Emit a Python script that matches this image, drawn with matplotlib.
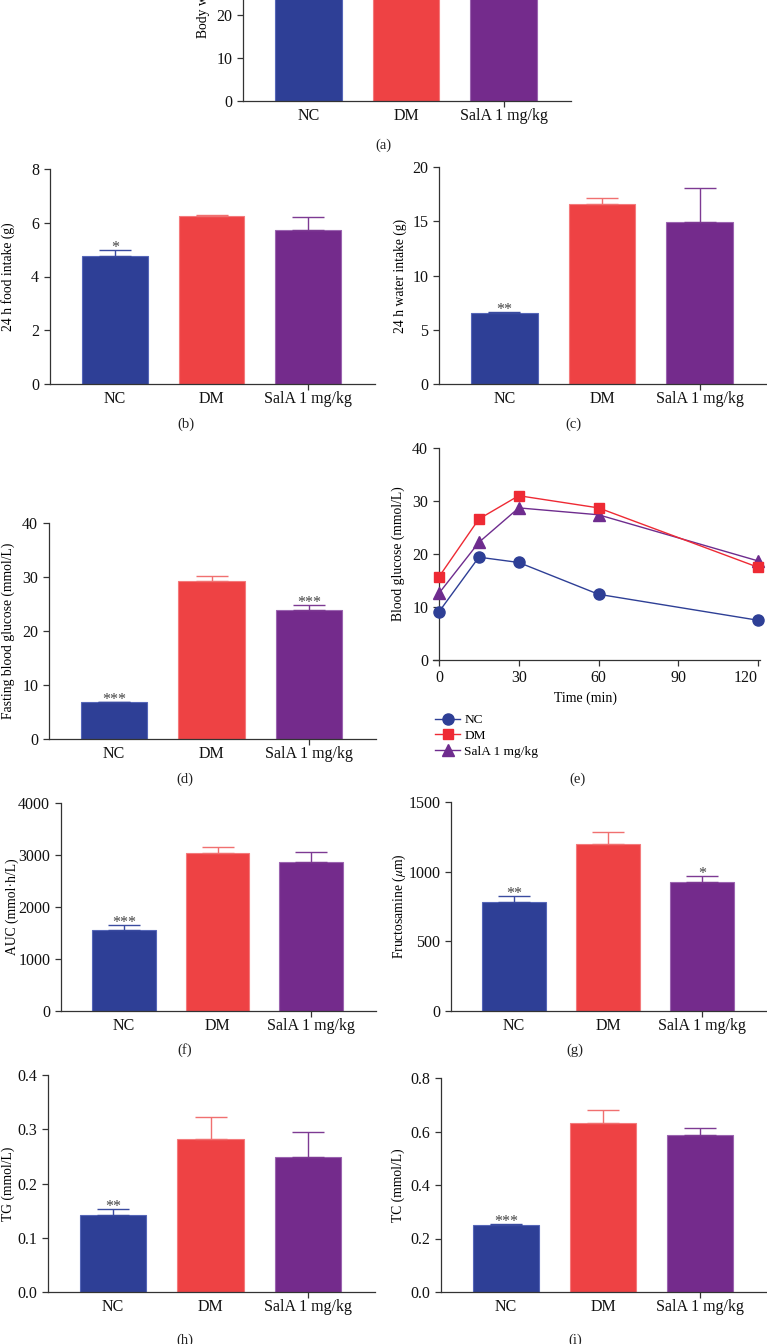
import numpy as np
import matplotlib
matplotlib.use("Agg")
import matplotlib.pyplot as plt
from matplotlib.ticker import MultipleLocator, FormatStrFormatter

plt.rcParams['font.family'] = ['Liberation Serif', 'DejaVu Serif']
plt.rcParams['mathtext.fontset'] = 'stix'

W, H = 767, 1344

groups = ["NC", "DM", "SalA 1 mg/kg"]
bar_colors = ["#2E3F96", "#EE4244", "#742B8C"]
edge_colors = ["#5566b8", "#f47a7c", "#9b64b0"]
err_colors = ["#3a4ba0", "#f07070", "#7d3a93"]

# (a) body weight -- bars run off the top of the picture
bw_mean = [30.5, 26.0, 27.5]
bw_sem = [1.0, 1.2, 1.1]
bw_stars = ["", "", ""]

# (b) 24 h food intake
food_mean = [4.75, 6.25, 5.72]
food_sem = [0.25, 0.03, 0.50]
food_stars = ["*", "", ""]

# (c) 24 h water intake
water_mean = [6.58, 16.6, 14.9]
water_sem = [0.05, 0.52, 3.16]
water_stars = ["**", "", ""]

# (d) fasting blood glucose
fbg_mean = [6.77, 29.35, 23.8]
fbg_sem = [0.12, 0.75, 1.0]
fbg_stars = ["***", "", "***"]

# (e) OGTT
ogtt_time = [0, 15, 30, 60, 120]
ogtt_nc = [9.1, 19.4, 18.4, 12.4, 7.5]
ogtt_dm = [15.7, 26.6, 31.0, 28.7, 17.5]
ogtt_sala = [12.6, 22.2, 28.7, 27.4, 18.7]

# (f) AUC
auc_mean = [1564, 3032, 2872]
auc_sem = [83, 122, 179]
auc_stars = ["***", "", ""]

# (g) fructosamine
fru_mean = [785, 1200, 929]
fru_sem = [41, 82, 43]
fru_stars = ["**", "", "*"]

# (h) TG
tg_mean = [0.1428, 0.2825, 0.249]
tg_sem = [0.0105, 0.0395, 0.046]
tg_stars = ["**", "", ""]

# (i) TC
tc_mean = [0.249, 0.632, 0.586]
tc_sem = [0.005, 0.047, 0.027]
tc_stars = ["***", "", ""]

fig = plt.figure(figsize=(W / 100, H / 100), dpi=100)


def px_axes(x0, y0, x1, y1):
    return fig.add_axes([x0 / W, 1 - y1 / H, (x1 - x0) / W, (y1 - y0) / H])


def style_axes(ax):
    for s in ["top", "right"]:
        ax.spines[s].set_visible(False)
    for s in ["left", "bottom"]:
        ax.spines[s].set_color("#333333")
        ax.spines[s].set_linewidth(0.9)
    ax.tick_params(direction="out", length=4.3, width=0.9, color="#333333",
                   labelsize=11.5, labelcolor="#111111")
    ax.tick_params(axis="y", pad=3.5)


def bar_panel(box, mean, sem, stars, ymax, step, ylabel, label_x, fmt="%d"):
    x0, y0, x1, y1 = box
    ax = px_axes(x0, y0, x1, y1)
    x = np.arange(len(groups))
    ax.bar(x, mean, width=0.68, color=bar_colors, edgecolor=edge_colors,
           linewidth=0.8, zorder=2)
    for xi, m, e, c, st in zip(x, mean, sem, err_colors, stars):
        ax.errorbar(xi, m, yerr=[[0], [e]], color=c, capsize=11.5,
                    elinewidth=1, capthick=1, zorder=3)
        if st:
            ax.annotate(st, (xi, m + e), xytext=(0, -1.5), textcoords="offset points",
                        ha="center", va="baseline", fontsize=11.5, color="#444444")
    ax.set_xlim(-0.67, 2.69)
    ax.set_ylim(0, ymax)
    ax.yaxis.set_major_locator(MultipleLocator(step))
    ax.yaxis.set_major_formatter(FormatStrFormatter(fmt))
    ax.set_xticks(x)
    ax.set_xticklabels(groups)
    style_axes(ax)
    ax.tick_params(axis="x", pad=1)
    for t in ax.xaxis.get_major_ticks()[:2]:
        t.tick1line.set_visible(False)
    ax.set_ylabel(ylabel, fontsize=9.8, va="center")
    ax.yaxis.set_label_coords(label_x / W, 1 - (y0 + y1) / 2 / H,
                              transform=fig.transFigure)
    return ax


bar_panel((243, -114, 571, 101), bw_mean, bw_sem, bw_stars, 50, 10, "Body weight (g)", 203)
bar_panel((50, 169, 375, 384), food_mean, food_sem, food_stars, 8, 2, "24 h food intake (g)", 8)
bar_panel((439, 167, 767, 384), water_mean, water_sem, water_stars, 20, 5, "24 h water intake (g)", 400)
bar_panel((49, 523, 376, 739), fbg_mean, fbg_sem, fbg_stars, 40, 10, "Fasting blood glucose (mmol/L)", 8)
bar_panel((61, 803, 376, 1011), auc_mean, auc_sem, auc_stars, 4000, 1000, "AUC (mmol\u00b7h/L)", 12)
bar_panel((451, 802, 767, 1011), fru_mean, fru_sem, fru_stars, 1500, 500, "Fructosamine ($\\mu$m)", 399)
bar_panel((48, 1075, 375, 1292), tg_mean, tg_sem, tg_stars, 0.4, 0.1, "TG (mmol/L)", 8, fmt="%.1f")
bar_panel((441, 1078, 767, 1292), tc_mean, tc_sem, tc_stars, 0.8, 0.2, "TC (mmol/L)", 398, fmt="%.1f")

# (e) OGTT line chart
ax = px_axes(433, 448, 760, 660)
ax.plot(ogtt_time, ogtt_nc, color="#2E3F96", marker="o", markersize=8, lw=1,
        label="NC", clip_on=False, zorder=3)
ax.plot(ogtt_time, ogtt_dm, color="#EE2A34", marker="s", markersize=7.5, lw=1,
        label="DM", clip_on=False, zorder=4)
ax.plot(ogtt_time, ogtt_sala, color="#6E2C8E", marker="^", markersize=8, lw=1,
        label="SalA 1 mg/kg", clip_on=False, zorder=3)
ax.set_xlim(-2.26, 120.75)
ax.set_ylim(0, 40)
ax.spines["left"].set_position(("data", 0))
ax.set_xticks([0, 30, 60, 90, 120])
ax.yaxis.set_major_locator(MultipleLocator(10))
style_axes(ax)
ax.tick_params(axis="x", pad=3)
ax.get_xticklabels()[-1].set_ha("right")
ax.get_xticklabels()[-1].set_x(124)
ax.set_xlabel("Time (min)", fontsize=10)
ax.xaxis.set_label_coords(585 / W, 1 - 698 / H, transform=fig.transFigure)
ax.xaxis.label.set_va("center")
ax.set_ylabel("Blood glucose (mmol/L)", fontsize=9.8, va="center")
ax.yaxis.set_label_coords(398 / W, 1 - 554 / H, transform=fig.transFigure)
ax.legend(loc="upper left", bbox_to_anchor=(435 / W, 1 - 714 / H),
          bbox_transform=fig.transFigure, frameon=False, fontsize=9.6,
          handlelength=1.9, handletextpad=0.3, labelspacing=0.25,
          borderpad=0, borderaxespad=0)

# panel letters
letters = [("(a)", 383, 145), ("(b)", 186, 424), ("(c)", 573, 424),
           ("(d)", 185, 779), ("(e)", 577, 779), ("(f)", 185, 1050),
           ("(g)", 575, 1050), ("(h)", 185, 1340), ("(i)", 575, 1340)]
for txt, x, y in letters:
    fig.text(x / W, 1 - y / H, txt, ha="center", va="center", fontsize=10.5, color="#222222")

plt.savefig("out.png", dpi=100)
